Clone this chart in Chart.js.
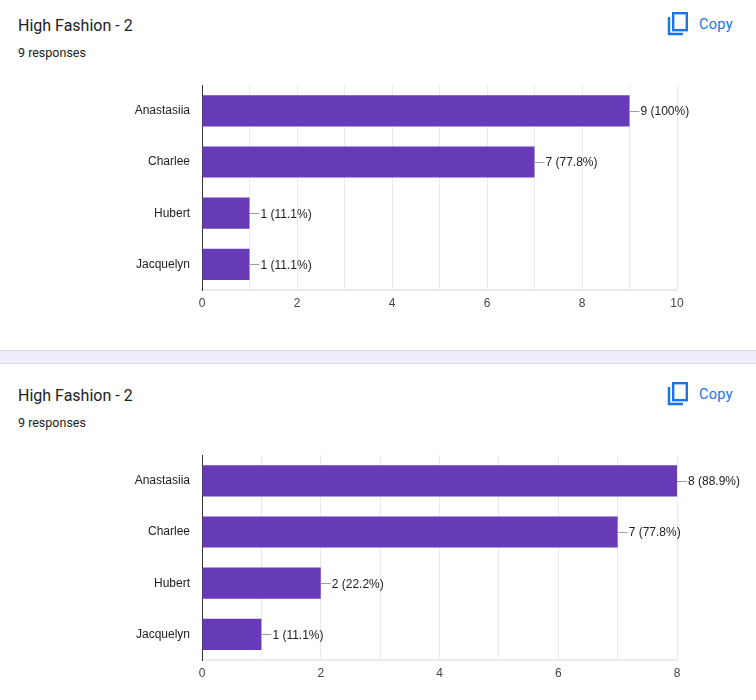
<!DOCTYPE html>
<html lang="en">
<head>
  <meta charset="UTF-8">
  <title>High Fashion - 2</title>
  <script src="https://cdn.jsdelivr.net/npm/chart.js"></script>
  <style>
    body {
      margin: 0;
      width: 756px;
      height: 700px;
      overflow: hidden;
      background: #ffffff;
      font-family: Roboto, Arial, sans-serif;
      position: relative;
    }
    .card {
      position: absolute;
      left: 0;
      width: 756px;
      background: #ffffff;
    }
    .title {
      position: absolute;
      left: 18px;
      top: 15px;
      font-size: 16px;
      color: #202124;
      line-height: 22px;
    }
    .sub {
      position: absolute;
      left: 18px;
      top: 45px;
      font-size: 12.5px;
      color: #202124;
      line-height: 16px;
    }
    .copy {
      position: absolute;
      left: 667px;
      top: 12px;
      display: flex;
      align-items: center;
      color: #1a73e8;
      font-size: 14.5px;
      font-family: Roboto, Arial, sans-serif;
    }
    .copy span { margin-left: 10px; letter-spacing: 0.3px; }
    .chart-box {
      position: absolute;
      left: 0;
      top: 66px;
      width: 756px;
      height: 254px;
    }
    .sep {
      position: absolute;
      left: 0;
      top: 350px;
      width: 756px;
      height: 12px;
      background: #efebf8;
      border-top: 1px solid #dadce0;
      border-bottom: 1px solid #dadce0;
    }
  </style>
</head>
<body>
  <div class="card" style="top:0;height:350px">
    <div class="title">High Fashion - 2</div>
    <div class="sub">9 responses</div>
    <div class="copy">
      <svg width="22" height="24" viewBox="0 0 22 24">
        <path d="M2 5 V22 H16" fill="none" stroke="#1a73e8" stroke-width="2.4"/>
        <rect x="6.2" y="1.2" width="13.6" height="17" fill="none" stroke="#1a73e8" stroke-width="2.4"/>
      </svg>
      <span>Copy</span>
    </div>
    <div class="chart-box"><canvas id="chart1"></canvas></div>
  </div>
  <div class="sep"></div>
  <div class="card" style="top:364px;height:336px">
    <div class="title" style="top:21px">High Fashion - 2</div>
    <div class="sub" style="top:51px">9 responses</div>
    <div class="copy" style="top:18px">
      <svg width="22" height="24" viewBox="0 0 22 24">
        <path d="M2 5 V22 H16" fill="none" stroke="#1a73e8" stroke-width="2.4"/>
        <rect x="6.2" y="1.2" width="13.6" height="17" fill="none" stroke="#1a73e8" stroke-width="2.4"/>
      </svg>
      <span>Copy</span>
    </div>
    <div class="chart-box" style="top:72px"><canvas id="chart2"></canvas></div>
  </div>

  <script>
    const names = ['Anastasiia', 'Charlee', 'Hubert', 'Jacquelyn'];
    const totalResponses = 9;
    const votes1 = [9, 7, 1, 1];
    const votes2 = [8, 7, 2, 1];
    const max1 = 10;
    const max2 = 8;

    const barColor = '#673ab7';

    // leader line + "n (pct%)" label at the end of each bar
    const barLabels = {
      id: 'barLabels',
      afterDatasetsDraw(chart) {
        const ctx = chart.ctx;
        const meta = chart.getDatasetMeta(0);
        const data = chart.data.datasets[0].data;
        ctx.save();
        ctx.font = '12px "Liberation Sans", Arial, sans-serif';
        ctx.textBaseline = 'middle';
        meta.data.forEach((bar, i) => {
          const v = data[i];
          const pct = Math.round(v / totalResponses * 1000) / 10;
          const txt = v + ' (' + (pct === 100 ? '100' : pct.toFixed(1)) + '%)';
          ctx.strokeStyle = '#9e9e9e';
          ctx.lineWidth = 1;
          ctx.beginPath();
          ctx.moveTo(bar.x, Math.round(bar.y) + 0.5);
          ctx.lineTo(bar.x + 10, Math.round(bar.y) + 0.5);
          ctx.stroke();
          ctx.fillStyle = '#222222';
          ctx.fillText(txt, bar.x + 11, bar.y + 1);
        });
        ctx.restore();
      }
    };

    function makeChart(id, values, maxVal) {
      const ctx = document.getElementById(id).getContext('2d');
      return new Chart(ctx, {
        type: 'bar',
        data: {
          labels: names,
          datasets: [{
            data: values,
            backgroundColor: barColor,
            categoryPercentage: 0.61,
            barPercentage: 1
          }]
        },
        options: {
          indexAxis: 'y',
          responsive: true,
          maintainAspectRatio: false,
          animation: false,
          layout: { padding: { top: 0, right: 79, left: 0, bottom: 0 } },
          plugins: {
            legend: { display: false },
            tooltip: { enabled: false }
          },
          scales: {
            x: {
              min: 0,
              max: maxVal,
              afterFit(scale) { scale.height = 30; },
              ticks: {
                stepSize: 1,
                autoSkip: false,
                maxRotation: 0,
                padding: 6,
                color: '#444444',
                font: { family: '"Liberation Sans", Arial, sans-serif', size: 12 },
                callback: v => (v % 2 === 0 ? v : '')
              },
              grid: { color: '#ebebeb', drawTicks: false },
              border: { color: '#ebebeb', width: 2 }
            },
            y: {
              afterFit(scale) { scale.width = 202; },
              ticks: {
                padding: 12,
                color: '#222222',
                font: { family: '"Liberation Sans", Arial, sans-serif', size: 12 }
              },
              grid: { display: false, drawTicks: false },
              border: { color: '#333333', width: 1 }
            }
          }
        },
        plugins: [barLabels]
      });
    }

    makeChart('chart1', votes1, max1);
    makeChart('chart2', votes2, max2);
  </script>
</body>
</html>
